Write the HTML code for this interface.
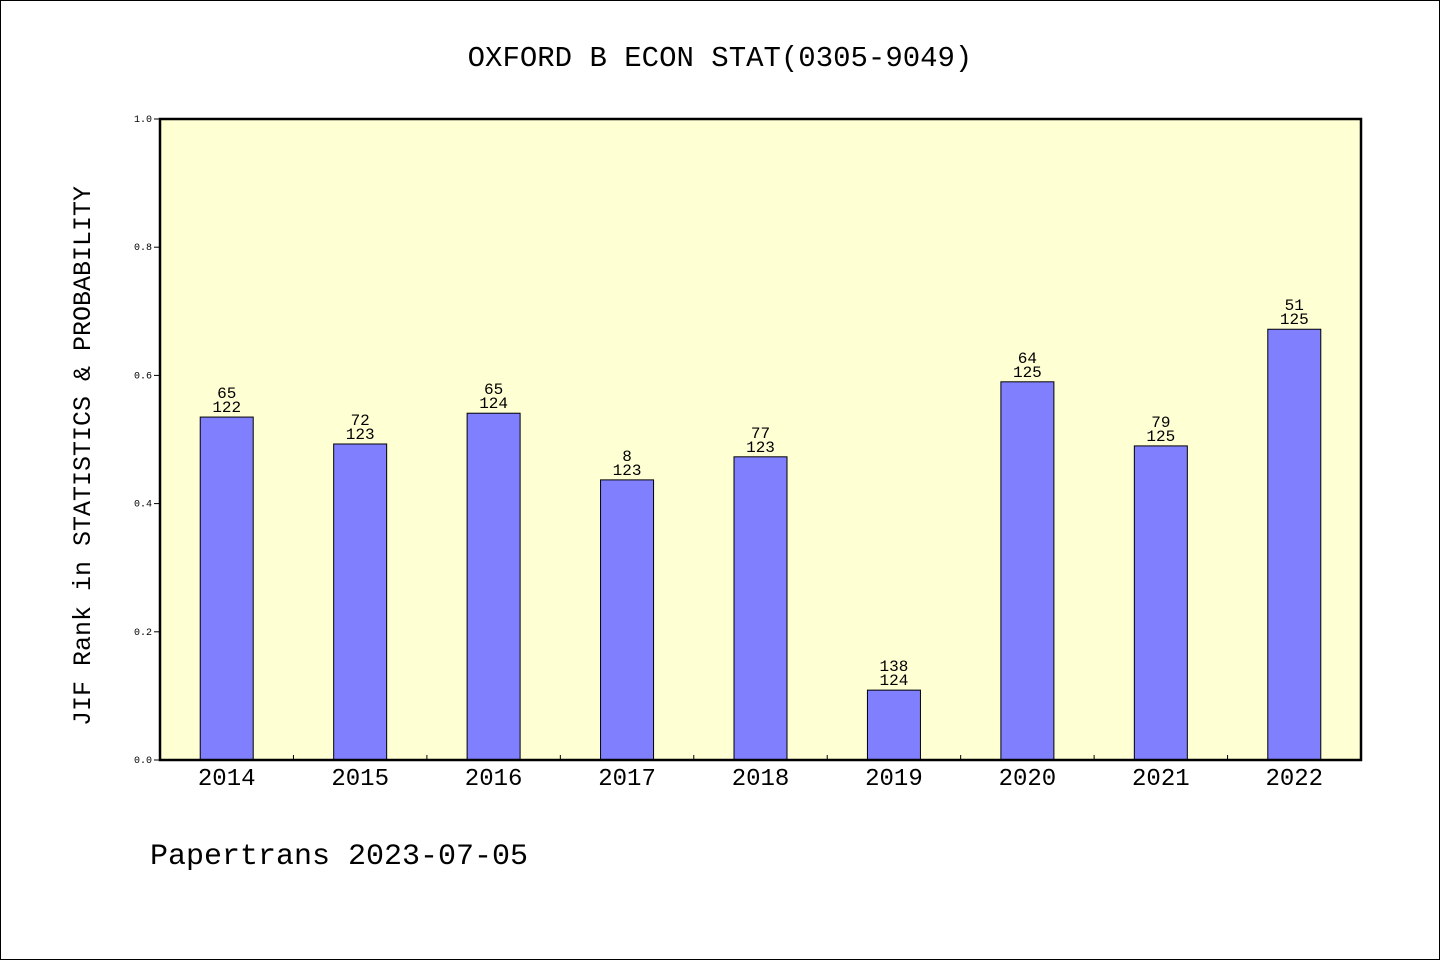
<!DOCTYPE html>
<html><head><meta charset="utf-8"><style>
html,body{margin:0;padding:0;background:#fff;}
svg text{font-family:"Liberation Mono","WenQuanYi Zen Hei",monospace;fill:#000;}
</style></head><body>
<svg width="1440" height="960" xmlns="http://www.w3.org/2000/svg">
<rect x="0.5" y="0.5" width="1439" height="959" fill="#fff" stroke="#000"/>
<text x="720" y="66" font-size="29" text-anchor="middle">OXFORD B ECON STAT(0305-9049)</text>
<rect x="160" y="119" width="1201" height="641" fill="#ffffd4"/>
<g id="bars"></g>
<g id="axes"></g>
<rect x="160" y="119" width="1201" height="641" fill="none" stroke="#000" stroke-width="2.5"/>
<text transform="translate(90,456) rotate(-90)" font-size="25" text-anchor="middle">JIF Rank in STATISTICS &amp; PROBABILITY</text>
<text x="150" y="864" font-size="30">Papertrans 2023-07-05</text>
</svg>
<script>
const years=["2014","2015","2016","2017","2018","2019","2020","2021","2022"];
const values=[0.535,0.493,0.541,0.437,0.473,0.109,0.590,0.490,0.672];
const ranks=["65","72","65","8","77","138","64","79","51"];
const totals=["122","123","124","123","123","124","125","125","125"];
const yTicks=[0,0.2,0.4,0.6,0.8,1.0];
const X0=160,X1=1361,Y0=760,Y1=119;
const NS="http://www.w3.org/2000/svg";
const step=(X1-X0)/years.length;
const xc=i=>X0+step*(i+0.5);
const ys=v=>Y0-(Y0-Y1)*v;
const bars=document.getElementById('bars'),axes=document.getElementById('axes');
function mk(tag,attrs,parent){const e=document.createElementNS(NS,tag);for(const k in attrs)e.setAttribute(k,attrs[k]);parent.appendChild(e);return e;}
years.forEach((y,i)=>{
  const b=mk('rect',{x:xc(i)-26.5,y:ys(values[i]),width:53,height:Y0-ys(values[i]),fill:'#8080ff',stroke:'#000','stroke-width':1},bars);
  
  
  const t1=mk('text',{x:xc(i),y:ys(values[i])-19,'font-size':16,'text-anchor':'middle'},bars);t1.textContent=ranks[i];
  
  
  const t2=mk('text',{x:xc(i),y:ys(values[i])-5,'font-size':16,'text-anchor':'middle'},bars);t2.textContent=totals[i];
  
  
  const xl=mk('text',{x:xc(i),y:Y0+25,'font-size':24,'text-anchor':'middle'},axes);xl.textContent=y;
  
  
  if(i>0){const tk=mk('line',{x1:X0+step*i,x2:X0+step*i,y1:Y0,y2:Y0-5,stroke:'#000'},axes);
  
  }
});
yTicks.forEach(v=>{
  const tk=mk('line',{x1:X0-6,x2:X0,y1:ys(v),y2:ys(v),stroke:'#000'},axes);
  
  
  const tl=mk('text',{x:X0-8,y:ys(v)+3,'font-size':10,'text-anchor':'end'},axes);tl.textContent=v.toFixed(1);
  
  
});
</script>
</body></html>
